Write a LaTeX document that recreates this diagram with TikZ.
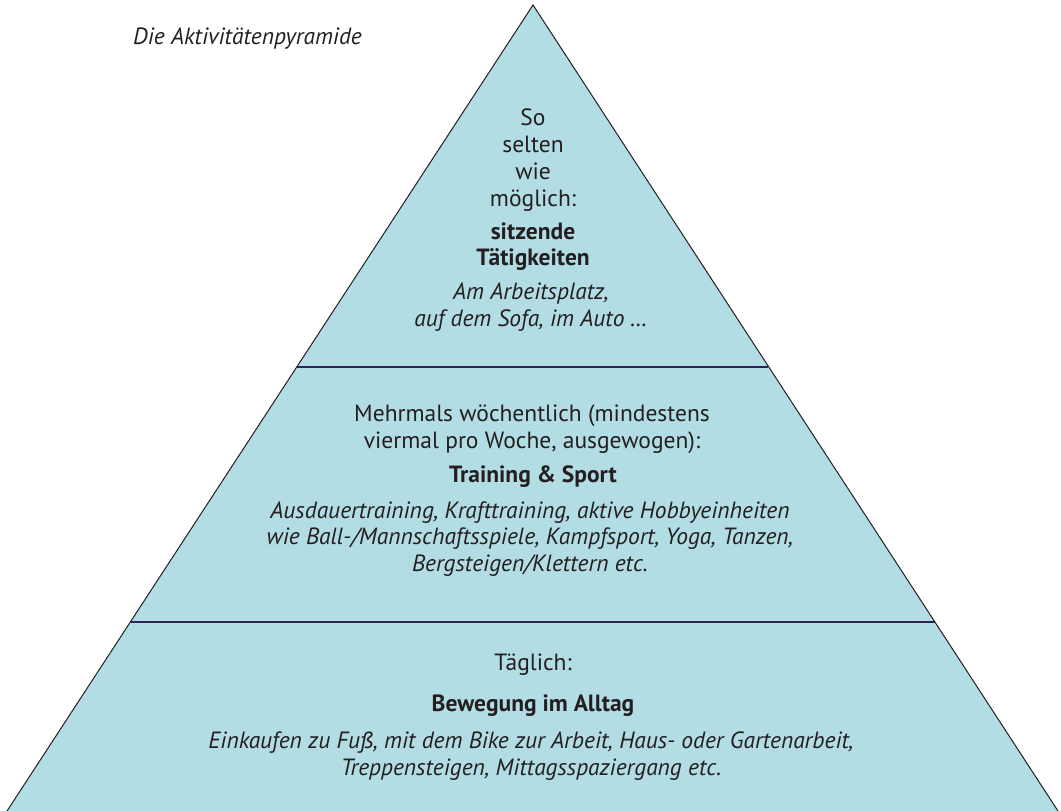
\documentclass[tikz,border=0pt]{standalone}
\usepackage{fontspec}
\setmainfont{PT Sans}
\usetikzlibrary{positioning}

\definecolor{pyrfill}{HTML}{B3DDE4}
\definecolor{pyrline}{HTML}{2B2358}
\definecolor{inkgray}{HTML}{231F20}

\begin{document}
\begin{tikzpicture}[x=1pt,y=1pt,
                    every node/.style={text=inkgray,align=center,inner sep=0pt,
                                       font=\fontsize{23.5}{27}\selectfont},
                    head/.style={font=\fontsize{23.5}{26}\selectfont\bfseries},
                    note/.style={font=\fontsize{23.5}{26.5}\selectfont\itshape}]
   \useasboundingbox (0,0) rectangle (1061,811);
   \coordinate (apex) at (533,806);
   \coordinate (bl) at (7,0);
   \coordinate (br) at (1058,0);
   \coordinate (midl) at (297,444);
   \coordinate (midr) at (768,444);
   \coordinate (lowl) at (131,189);
   \coordinate (lowr) at (935,189);
   \fill[pyrfill] (apex) -- (br) -- (bl) -- cycle;
   \draw[pyrline,line width=1.3pt] (midl) -- (midr);
   \draw[pyrline,line width=1.3pt] (lowl) -- (lowr);
   \draw[inkgray,line width=1pt,line join=miter] (bl) -- (apex) -- (br);

   \node[note,anchor=west] (title) at (133,772) {Die Aktivitätenpyramide};
   % top tier
   \node (rare) at (533,651) {So\\selten\\wie\\möglich:};
   \node[head] (sitting) at (533,564) {sitzende\\Tätigkeiten};
   \node[note] (sittingex) at (531,504) {Am Arbeitsplatz,\\auf dem Sofa, im Auto \dots};
   % middle tier
   \node (weekly) at (532,382) {Mehrmals wöchentlich (mindestens\\viermal pro Woche, ausgewogen):};
   \node[head] (sport) at (533,334) {Training \& Sport};
   \node[note] (sportex) at (530,272) {Ausdauertraining, Krafttraining, aktive Hobbyeinheiten\\
      wie Ball-/Mannschaftsspiele, Kampfsport, Yoga, Tanzen,\\Bergsteigen/Klettern etc.};
   % bottom tier
   \node (daily) at (533,146) {Täglich:};
   \node[head] (move) at (533,105) {Bewegung im Alltag};
   \node[note] (moveex) at (531,55) {Einkaufen zu Fuß, mit dem Bike zur Arbeit, Haus- oder Gartenarbeit,\\
      Treppensteigen, Mittagsspaziergang etc.};
\end{tikzpicture}
\end{document}
